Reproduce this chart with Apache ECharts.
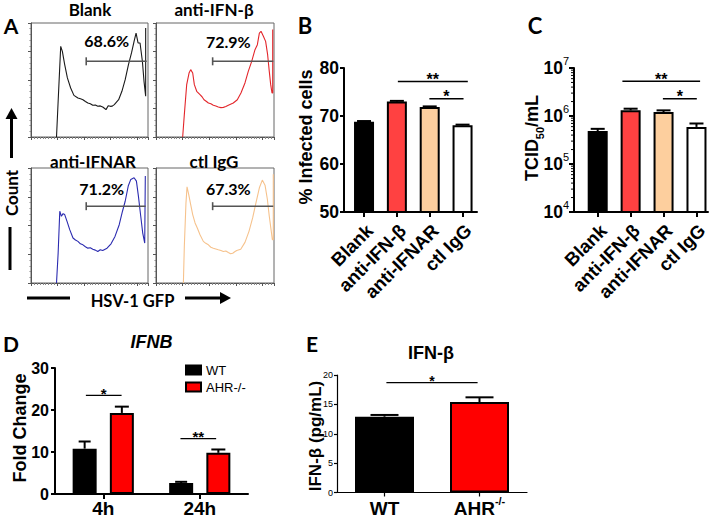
<!DOCTYPE html>
<html><head><meta charset="utf-8">
<script src="https://cdn.jsdelivr.net/npm/echarts@6/dist/echarts.min.js"></script>
<style>html,body{margin:0;padding:0;background:#fff}#c{width:720px;height:518px}</style>
</head><body><div id="c"></div>
<script>
// ---------- DATA ----------
// Panel A: flow histograms, [GFP channel (% of axis), count (% of axis)]
const histBlank = [[21.8,0],[23.2,31.3],[25.4,79.5],[26.8,75.1],[28.8,63.5],[31.1,51.8],[33.9,43],[36.7,36.5],[40.1,34.2],[42.3,33.5],[44.4,32.7],[46.5,31.2],[48.6,29.8],[50.7,29.2],[52.8,27.8],[55,28.1],[57.1,26.9],[59.2,27.3],[61.3,26.3],[62.7,25.2],[64.1,24],[66,27.5],[67.8,26.9],[69.5,27.1],[71.2,28.4],[74.9,32.7],[77.7,40.1],[80.5,50.3],[83.3,63.5],[85.9,73.7],[88.1,83.9],[89.8,91.2],[91.5,82.5],[93.2,82.5],[95.2,66.4],[96.6,48.8],[98,35.7],[98,95.6]];
const histAntiIFNb = [[22.6,0],[24,19.6],[26,45.9],[28,56.1],[29.4,59.1],[31.1,56.1],[32.5,45.9],[34.5,40.1],[37.3,37.1],[39,35.3],[40.7,32.7],[42.5,31.4],[44.4,29.8],[46.5,29.1],[48.6,27.8],[50.7,27.2],[52.8,26.3],[55,25.8],[57.1,26],[59.2,26.7],[61.3,27.8],[65.5,29.8],[68.9,32.7],[72,38.6],[75.4,47.4],[78.2,57.6],[81.1,66.4],[83.9,76.6],[85.9,81],[87.6,91.2],[89,92.7],[91,88.3],[92.9,83.9],[94.6,72.2],[96,57.6],[97.2,45.9],[98.3,38.6],[98.9,38.6],[98.9,94.2]];
const histAntiIFNAR = [[21.8,0],[23.2,26],[24.6,62.4],[26,58],[27.4,60.3],[28.8,59.5],[30.8,53.6],[33.1,46.4],[35.9,39.1],[38,37.4],[40.1,36.2],[42.2,34.1],[44.4,33.2],[46.5,31.5],[48.6,30.3],[50.7,30.6],[52.8,29.4],[55,28.6],[57.1,27.4],[59.2,28.9],[61.3,28.3],[65,30.3],[68.4,34.1],[71.8,40.5],[75.4,50.7],[78.2,62.4],[80.5,71.1],[83.1,84.3],[85.3,90.1],[88.1,91.5],[90.1,88.6],[91.8,75.5],[93.8,58],[95.5,43.4],[97.2,34.7],[97.7,34.7],[97.7,93]];
const histCtlIgG = [[23.2,0],[24,31.8],[25.4,69.7],[26.3,83.7],[27.7,77],[29.4,68.2],[31.1,59.5],[33.1,52.2],[35,47.8],[37.3,42],[40.1,36.2],[42.2,34.5],[44.4,33.2],[46.5,31.1],[48.6,30.3],[50.7,29.6],[52.8,28.9],[55,28.2],[57.1,27.4],[59.2,27.8],[61.3,26.5],[63.2,25.5],[65,25.9],[66.7,27.2],[68.4,28.3],[71.8,29.4],[75.4,35.3],[78.8,44.9],[81.9,56.6],[84.7,69.7],[87.6,82.8],[90.1,89.5],[92.4,85.1],[94.4,72.6],[96,58],[97.5,46.4],[98.6,37.6],[99.4,37.6],[99.4,94.5]];
const histTitles = ['Blank', 'anti-IFN-\u03B2', 'anti-IFNAR', 'ctl IgG'];
const histPercents = ['68.6%', '72.9%', '71.2%', '67.3%'];
// gate: [start, end, level]
const histGates = [[47.2,98.9,66.4],[48,99.4,66.4],[47.2,98,66.8],[48,99.4,66.8]];

// Panel B
const bCategories = ['Blank', 'anti-IFN-\u03B2', 'anti-IFNAR', 'ctl IgG'];
const bValues = [68.8, 73.0, 71.85, 68.05];
const bErrors = [0.15, 0.15, 0.15, 0.15];
const bTicks = [50, 60, 70, 80];
const bSig = [[1.03, 3.16, 77.2, '**'], [1.99, 3.03, 73.6, '*']];

// Panel C
const cCategories = ['Blank', 'anti-IFN-\u03B2', 'anti-IFNAR', 'ctl IgG'];
const cValues = [4.85e5, 1.31e6, 1.21e6, 5.93e5];
const cErrors = [0.55e5, 1.1e5, 1.0e5, 1.05e5];
const cTicks = [1e4, 1e5, 1e6, 1e7];
const cMinorMultipliers = [2, 3, 4, 5, 6, 7, 8, 9];
const cSig = [[0.75, 3.11, 5.3e6, '**'], [1.98, 3.01, 2.3e6, '*']];

// Panel D
const dCategories = ['4h', '24h'];
const dWT = [10.8, 2.6];
const dWTErr = [1.7, 0.3];
const dAHR = [19.3, 9.8];
const dAHRErr = [1.5, 0.8];
const dTicks = [0, 10, 20, 30];
const dSig = [[-0.18, 0.19, 23.5, '*'], [0.8, 1.17, 13.2, '**']];

// Panel E
const eCategories = ['WT', 'AHR-/-'];
const eValues = [12.9, 15.4];
const eErrors = [0.3, 0.8];
const eTicks = [0, 5, 10, 15, 20];
const eSig = [[0.02, 0.98, 18.7, '*']];

// ---------- STYLE / LAYOUT ----------
const FA = 'Lato, "Open Sans", sans-serif';
const FB = '"Liberation Sans", Arial, sans-serif';
const histColors = ['#1a1a1a', '#e3262b', '#2b2bb0', '#f6c28c'];
const barColors = ['#000000', '#ff4141', '#fdcf9e', '#ffffff'];
const dColors = ['#000000', '#ff0000'];
const histGrids = [
  {left: 31, top: 23, width: 117, height: 114},
  {left: 156, top: 23, width: 118, height: 114},
  {left: 31, top: 168, width: 117, height: 115},
  {left: 156, top: 168, width: 118, height: 115}
];
const BW_B = 20, BW_D = 24, GAP_D = 0.55, BW_E = 59;

function errRender(capHalf, offset, lw) {
  return function (params, api) {
    const x = api.value(0);
    const b = api.coord([x, api.value(1)]);
    const t = api.coord([x, api.value(2)]);
    const cx = b[0] + (offset || 0);
    return {type: 'group', children: [
      {type: 'line', shape: {x1: cx, y1: b[1], x2: cx, y2: t[1]}, style: {stroke: '#000', lineWidth: lw || 2}},
      {type: 'line', shape: {x1: cx - capHalf, y1: t[1], x2: cx + capHalf, y2: t[1]}, style: {stroke: '#000', lineWidth: lw || 2}}
    ]};
  };
}
function sigRender(list, fontSize, lw) {
  return function (params, api) {
    const p1 = api.coord([api.value(0), api.value(2)]);
    const p2 = api.coord([api.value(1), api.value(2)]);
    const label = list[params.dataIndex][3];
    return {type: 'group', children: [
      {type: 'line', shape: {x1: p1[0], y1: p1[1], x2: p2[0], y2: p1[1]}, style: {stroke: '#000', lineWidth: lw}},
      {type: 'text', style: {text: label, x: (p1[0] + p2[0]) / 2, y: p1[1] + fontSize * 0.38,
        textAlign: 'center', align: 'center', textVerticalAlign: 'bottom', verticalAlign: 'bottom',
        fill: '#000', font: 'bold ' + fontSize + 'px ' + FB}}
    ]};
  };
}
function gateRender(params, api) {
  const p1 = api.coord([api.value(0), api.value(2)]);
  const p2 = api.coord([api.value(1), api.value(2)]);
  return {type: 'group', children: [
    {type: 'line', shape: {x1: p1[0], y1: p1[1], x2: p2[0], y2: p1[1]}, style: {stroke: '#555', lineWidth: 1.6}},
    {type: 'line', shape: {x1: p1[0], y1: p1[1] - 4, x2: p1[0], y2: p1[1] + 4}, style: {stroke: '#555', lineWidth: 1.6}}
  ]};
}
function minorTickRender(params, api) {
  const y = api.coord([0, api.value(1)])[1];
  const x = params.coordSys.x;
  return {type: 'line', shape: {x1: x - 3, y1: y, x2: x, y2: y}, style: {stroke: '#000', lineWidth: 1}};
}

const histData = [histBlank, histAntiIFNb, histAntiIFNAR, histCtlIgG];
const grids = histGrids.map(g => Object.assign({show: true, borderColor: '#666', borderWidth: 1, backgroundColor: 'transparent'}, g));
grids.push({left: 344, top: 68, width: 133, height: 144});   // B
grids.push({left: 574, top: 68, width: 134, height: 144});   // C
grids.push({left: 55, top: 368, width: 193, height: 126});   // D
grids.push({left: 337, top: 375, width: 190, height: 122});  // E

const xAxes = [], yAxes = [];
histGrids.forEach((g, i) => {
  xAxes.push({type: 'value', gridIndex: i, min: 0, max: 100, interval: 22.6,
    axisLine: {show: true, onZero: false, lineStyle: {color: '#555', width: 1}},
    axisTick: {show: true, length: 3, lineStyle: {color: '#555'}},
    minorTick: {show: true, splitNumber: 9, length: 2, lineStyle: {color: '#888'}},
    axisLabel: {show: false}, splitLine: {show: false}});
  yAxes.push({type: 'value', gridIndex: i, min: 0, max: 100, interval: 25,
    axisLine: {show: true, onZero: false, lineStyle: {color: '#555', width: 1}},
    axisTick: {show: true, length: 3, lineStyle: {color: '#555'}},
    minorTick: {show: true, splitNumber: 5, length: 1.5, lineStyle: {color: '#888'}},
    axisLabel: {show: false}, splitLine: {show: false}});
});
const blackLine = w => ({show: true, onZero: false, lineStyle: {color: '#000', width: w}});
const catLabel = (cats) => ({customValues: cats.map((c, i) => i), rotate: 45, margin: 21, padding: [0, -8, 0, 0],
  formatter: v => cats[Math.round(v)], fontFamily: FB, fontWeight: 'bold', fontSize: 18.5, color: '#000'});
// B x (4)
xAxes.push({type: 'value', gridIndex: 4, min: -0.61, max: 3.44, axisLine: blackLine(2),
  axisTick: {show: true, customValues: bCategories.map((c, i) => i), length: 5, lineStyle: {color: '#000', width: 2}},
  axisLabel: catLabel(bCategories), splitLine: {show: false}});
// C x (5)
xAxes.push({type: 'value', gridIndex: 5, min: -0.72, max: 3.35, axisLine: blackLine(2),
  axisTick: {show: true, customValues: cCategories.map((c, i) => i), length: 5, lineStyle: {color: '#000', width: 2}},
  axisLabel: catLabel(cCategories), splitLine: {show: false}});
// D x cat (6), D x value (7)
xAxes.push({type: 'category', gridIndex: 6, data: dCategories, axisLine: blackLine(2),
  axisTick: {show: true, alignWithLabel: true, length: 5, lineStyle: {color: '#000', width: 2}},
  axisLabel: {margin: 5, fontFamily: FB, fontWeight: 'bold', fontSize: 19, color: '#000'}});
xAxes.push({type: 'value', gridIndex: 6, min: -0.5, max: 1.5, show: false});
// E x cat (8), E x value (9)
xAxes.push({type: 'category', gridIndex: 7, data: eCategories, axisLine: blackLine(1.2),
  axisTick: {show: true, alignWithLabel: true, length: 4, lineStyle: {color: '#000', width: 1.2}},
  axisLabel: {margin: 3, color: '#000',
    formatter: v => v.indexOf('-/-') > 0 ? '{a|' + v.replace('-/-', '') + '}{s|-/-}' : '{a|' + v + '}',
    rich: {a: {fontFamily: FB, fontWeight: 'bold', fontSize: 19, lineHeight: 26, color: '#000'},
           s: {fontFamily: FB, fontWeight: 'bold', fontSize: 11, verticalAlign: 'top', color: '#000'}}}});
xAxes.push({type: 'value', gridIndex: 7, min: -0.5, max: 1.5, show: false});

// B y (4)
yAxes.push({type: 'value', gridIndex: 4, min: bTicks[0], max: bTicks[bTicks.length - 1], interval: 10,
  axisLine: blackLine(2), axisTick: {show: true, length: 4, lineStyle: {color: '#000', width: 2}},
  axisLabel: {margin: 5, fontFamily: FB, fontWeight: 'bold', fontSize: 17.5, color: '#000'}, splitLine: {show: false}});
// C y log (5)
yAxes.push({type: 'log', logBase: 10, gridIndex: 5, min: cTicks[0], max: cTicks[cTicks.length - 1],
  axisLine: blackLine(2), axisTick: {show: true, length: 5, lineStyle: {color: '#000', width: 2}},
  axisLabel: {margin: 5, color: '#000',
    formatter: v => '{a|10}{b|' + Math.round(Math.log10(v)) + '}',
    rich: {a: {fontFamily: FB, fontWeight: 'bold', fontSize: 17.5, lineHeight: 26, color: '#000'},
           b: {fontFamily: FB, fontWeight: 'normal', fontSize: 11, verticalAlign: 'top', color: '#000'}}},
  splitLine: {show: false}});
// D y (6)
yAxes.push({type: 'value', gridIndex: 6, min: dTicks[0], max: dTicks[dTicks.length - 1], interval: 10,
  axisLine: blackLine(2), axisTick: {show: true, length: 4, lineStyle: {color: '#000', width: 2}},
  axisLabel: {margin: 6, fontFamily: FB, fontWeight: 'bold', fontSize: 16, color: '#000'}, splitLine: {show: false}});
// E y (7)
yAxes.push({type: 'value', gridIndex: 7, min: eTicks[0], max: eTicks[eTicks.length - 1], interval: 5,
  axisLine: blackLine(1.2), axisTick: {show: true, length: 3, lineStyle: {color: '#000', width: 1.2}},
  axisLabel: {margin: 4, fontFamily: FB, fontSize: 9, color: '#000'}, splitLine: {show: false}});

const series = [];
histData.forEach((d, i) => {
  series.push({type: 'line', name: histTitles[i], xAxisIndex: i, yAxisIndex: i, data: d, symbol: 'none',
    lineStyle: {color: histColors[i], width: 1.1}, silent: true, z: 3});
  series.push({type: 'custom', xAxisIndex: i, yAxisIndex: i, data: [histGates[i]], encode: {x: [0, 1], y: 2},
    renderItem: gateRender, silent: true, z: 4});
});
// B
series.push({type: 'bar', xAxisIndex: 4, yAxisIndex: 4, barWidth: BW_B,
  data: bValues.map((v, i) => ({value: [i, v], itemStyle: {color: barColors[i]}})),
  itemStyle: {borderColor: '#000', borderWidth: 2}, silent: true});
series.push({type: 'custom', xAxisIndex: 4, yAxisIndex: 4, data: bValues.map((v, i) => [i, v, v + bErrors[i]]),
  encode: {x: 0, y: [1, 2]}, renderItem: errRender(7), silent: true, z: 5});
series.push({type: 'custom', xAxisIndex: 4, yAxisIndex: 4, data: bSig.map(s => s.slice(0, 3)),
  encode: {x: [0, 1], y: 2}, renderItem: sigRender(bSig, 16, 1.5), silent: true, z: 5});
// C
series.push({type: 'bar', xAxisIndex: 5, yAxisIndex: 5, barWidth: BW_B,
  data: cValues.map((v, i) => ({value: [i, v], itemStyle: {color: barColors[i]}})),
  itemStyle: {borderColor: '#000', borderWidth: 2}, silent: true});
series.push({type: 'custom', xAxisIndex: 5, yAxisIndex: 5, data: cValues.map((v, i) => [i, v, v + cErrors[i]]),
  encode: {x: 0, y: [1, 2]}, renderItem: errRender(7), silent: true, z: 5});
series.push({type: 'custom', xAxisIndex: 5, yAxisIndex: 5, data: cSig.map(s => s.slice(0, 3)),
  encode: {x: [0, 1], y: 2}, renderItem: sigRender(cSig, 16, 1.5), silent: true, z: 5});
const cMinor = [];
cTicks.slice(0, -1).forEach(d => cMinorMultipliers.forEach(m => cMinor.push([0, d * m])));
series.push({type: 'custom', xAxisIndex: 5, yAxisIndex: 5, data: cMinor, encode: {x: 0, y: 1},
  renderItem: minorTickRender, silent: true, clip: false, z: 5});
// D
const dOff = BW_D * (1 + GAP_D) / 2;
series.push({type: 'bar', name: 'WT', xAxisIndex: 6, yAxisIndex: 6, barWidth: BW_D, barGap: (GAP_D * 100) + '%',
  data: dWT, itemStyle: {color: dColors[0], borderColor: '#000', borderWidth: 2}, silent: true});
series.push({type: 'bar', name: 'AHR-/-', xAxisIndex: 6, yAxisIndex: 6, barWidth: BW_D, barGap: (GAP_D * 100) + '%',
  data: dAHR, itemStyle: {color: dColors[1], borderColor: '#000', borderWidth: 2}, silent: true});
series.push({type: 'custom', xAxisIndex: 6, yAxisIndex: 6, data: dWT.map((v, i) => [i, v, v + dWTErr[i]]),
  encode: {x: 0, y: [1, 2]}, renderItem: errRender(6, -dOff), silent: true, z: 5});
series.push({type: 'custom', xAxisIndex: 6, yAxisIndex: 6, data: dAHR.map((v, i) => [i, v, v + dAHRErr[i]]),
  encode: {x: 0, y: [1, 2]}, renderItem: errRender(7, dOff), silent: true, z: 5});
series.push({type: 'custom', xAxisIndex: 7, yAxisIndex: 6, data: dSig.map(s => s.slice(0, 3)),
  encode: {x: [0, 1], y: 2}, renderItem: sigRender(dSig, 15, 1.3), silent: true, z: 5});
// E
series.push({type: 'bar', xAxisIndex: 8, yAxisIndex: 7, barWidth: BW_E,
  data: eValues.map((v, i) => ({value: v, itemStyle: {color: dColors[i]}})),
  itemStyle: {borderColor: '#000', borderWidth: 2}, silent: true});
series.push({type: 'custom', xAxisIndex: 8, yAxisIndex: 7, data: eValues.map((v, i) => [i, v, v + eErrors[i]]),
  encode: {x: 0, y: [1, 2]}, renderItem: errRender(14), silent: true, z: 5});
series.push({type: 'custom', xAxisIndex: 9, yAxisIndex: 7, data: eSig.map(s => s.slice(0, 3)),
  encode: {x: [0, 1], y: 2}, renderItem: sigRender(eSig, 14, 1.2), silent: true, z: 5});

// ---------- TEXT / ANNOTATION GRAPHICS ----------
function T(x, y, text, size, opt) {
  opt = opt || {};
  return {type: 'text', x: x, y: y, rotation: opt.rot || 0, z: 10,
    style: Object.assign({text: text, fill: '#000', fontFamily: opt.family || FB, fontWeight: opt.weight || 'bold',
      fontStyle: opt.style || 'normal', fontSize: size,
      textAlign: 'center', align: 'center', textVerticalAlign: 'middle', verticalAlign: 'middle'}, opt.extra || {})};
}
const R90 = Math.PI / 2;
const graphics = [
  T(11, 25, 'A', 21, {family: FA}),
  T(305, 25, 'B', 22, {family: FA}),
  T(535, 25, 'C', 22, {family: FA}),
  T(11, 343, 'D', 21, {family: FA}),
  T(312, 343, 'E', 21, {family: FA}),
  T(90, 9.5, histTitles[0], 17, {family: FA}),
  T(214, 9.5, histTitles[1], 17, {family: FA}),
  T(93, 161, histTitles[2], 17, {family: FA}),
  T(214, 161, histTitles[3], 17, {family: FA}),
  T(106.7, 40.5, histPercents[0], 16, {family: FA}),
  T(228.3, 41, histPercents[1], 16, {family: FA}),
  T(101.7, 188.5, histPercents[2], 16, {family: FA}),
  T(228.3, 188.5, histPercents[3], 16, {family: FA}),
  T(11, 193, 'Count', 17, {family: FA, rot: R90}),
  T(132.5, 301, 'HSV-1 GFP', 16.5, {family: FA}),
  T(306, 137, '% Infected cells', 18, {rot: R90}),
  T(532, 138, '{a|TCID}{b|50}{a|/mL}', 18, {rot: R90, extra: {rich: {
    a: {fontFamily: FB, fontWeight: 'bold', fontSize: 18, lineHeight: 26, fill: '#000'},
    b: {fontFamily: FB, fontWeight: 'bold', fontSize: 11, verticalAlign: 'bottom', fill: '#000'}}}}),
  T(20, 428, 'Fold Change', 18, {rot: R90}),
  T(151.5, 342, 'IFNB', 18, {style: 'italic'}),
  T(431, 353, 'IFN-\u03B2', 18),
  T(315, 436, 'IFN-\u03B2 (pg/mL)', 17, {rot: R90}),
  // arrows / bars of panel A
  {type: 'line', z: 10, shape: {x1: 11.5, y1: 158, x2: 11.5, y2: 117}, style: {stroke: '#000', lineWidth: 3}},
  {type: 'polygon', z: 10, shape: {points: [[11.5, 108], [5.5, 119], [17.5, 119]]}, style: {fill: '#000'}},
  {type: 'line', z: 10, shape: {x1: 10, y1: 227, x2: 10, y2: 270}, style: {stroke: '#000', lineWidth: 3}},
  {type: 'line', z: 10, shape: {x1: 27, y1: 298, x2: 70, y2: 298}, style: {stroke: '#000', lineWidth: 3}},
  {type: 'line', z: 10, shape: {x1: 185, y1: 298, x2: 222, y2: 298}, style: {stroke: '#000', lineWidth: 3}},
  {type: 'polygon', z: 10, shape: {points: [[231, 298], [220, 292], [220, 304]]}, style: {fill: '#000'}}
];

const chart = echarts.init(document.getElementById('c'), null, {renderer: 'svg', width: 720, height: 518});
chart.setOption({
  animation: false,
  backgroundColor: '#ffffff',
  textStyle: {fontFamily: FB},
  grid: grids,
  xAxis: xAxes,
  yAxis: yAxes,
  legend: {data: ['WT', 'AHR-/-'], left: 185, top: 363, orient: 'vertical', itemWidth: 15, itemHeight: 9,
    itemGap: 3, icon: 'rect', padding: 0, selectedMode: false,
    textStyle: {fontFamily: FB, fontSize: 13, color: '#000', lineHeight: 14}},
  series: series,
  graphic: graphics
});
</script>
</body></html>
